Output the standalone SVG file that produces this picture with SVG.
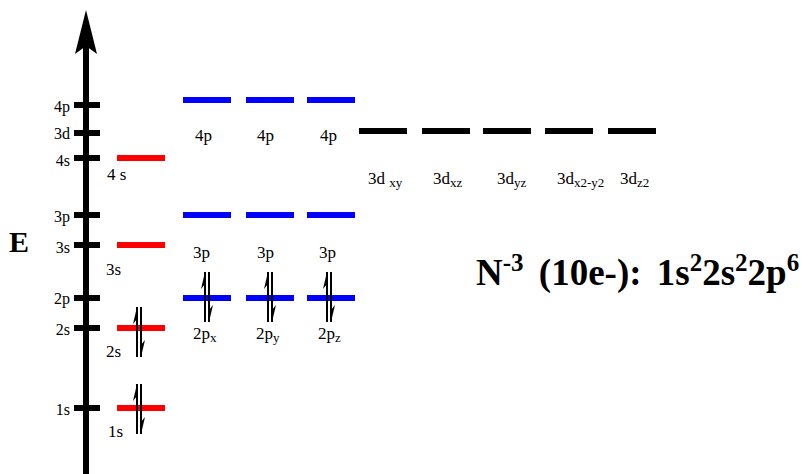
<svg xmlns="http://www.w3.org/2000/svg" xmlns:xlink="http://www.w3.org/1999/xlink" width="812" height="474" viewBox="0 0 812 474">
<style>
text{font-family:"Liberation Serif","Times New Roman",serif;fill:#000}
.lab{font-size:17px}
.ax{font-size:16px;text-anchor:end}
.sub{font-size:13px}
.tick{stroke:#000;stroke-width:6}
.s{stroke:#ff0000;stroke-width:6}
.p{stroke:#0000ff;stroke-width:6}
.d{stroke:#000;stroke-width:6}
.spin{stroke:#000;stroke-width:2;fill:none}
.big{font-size:37px;font-weight:bold;word-spacing:6px}
.sup{font-size:25px}
</style>
<defs>
<g id="pair">
<line class="spin" x1="0" y1="0" x2="0" y2="50"/>
<polygon points="0,0 -4,17 0,12" fill="#000"/>
<line class="spin" x1="4" y1="0" x2="4" y2="50"/>
<polygon points="4,50 8,33 4,38" fill="#000"/>
</g>
</defs>
<g id="axis">
<line x1="86" y1="45" x2="86" y2="474" stroke="#000" stroke-width="6"/>
<polygon points="86,10 97,54 86,46 75,54" fill="#000"/>
<line class="tick" x1="74" y1="105" x2="100" y2="105"/>
<line class="tick" x1="74" y1="133" x2="100" y2="133"/>
<line class="tick" x1="74" y1="158" x2="100" y2="158"/>
<line class="tick" x1="74" y1="215" x2="100" y2="215"/>
<line class="tick" x1="74" y1="245" x2="100" y2="245"/>
<line class="tick" x1="74" y1="298" x2="100" y2="298"/>
<line class="tick" x1="74" y1="328" x2="100" y2="328"/>
<line class="tick" x1="74" y1="408" x2="100" y2="408"/>
<text class="ax" x="70" y="112">4p</text>
<text class="ax" x="70" y="139">3d</text>
<text class="ax" x="70" y="166">4s</text>
<text class="ax" x="70" y="222">3p</text>
<text class="ax" x="70" y="253">3s</text>
<text class="ax" x="70" y="304">2p</text>
<text class="ax" x="70" y="335">2s</text>
<text class="ax" x="70" y="415">1s</text>
<text x="9" y="252" style="font-size:30px;font-weight:bold">E</text>
</g>
<g id="s-orbitals">
<line class="s" x1="117" y1="158" x2="165" y2="158"/>
<text class="lab" x="107" y="180">4 s</text>
<line class="s" x1="117" y1="245" x2="165" y2="245"/>
<text class="lab" x="106" y="275">3s</text>
<line class="s" x1="117" y1="328" x2="165" y2="328"/>
<text class="lab" x="106" y="357">2s</text>
<line class="s" x1="117" y1="408" x2="165" y2="408"/>
<text class="lab" x="108" y="437">1s</text>
</g>
<g id="p4">
<line class="p" x1="183" y1="100" x2="231" y2="100"/>
<line class="p" x1="246" y1="100" x2="294" y2="100"/>
<line class="p" x1="307" y1="100" x2="355" y2="100"/>
<text class="lab" x="195" y="141">4p</text>
<text class="lab" x="257" y="141">4p</text>
<text class="lab" x="320" y="141">4p</text>
</g>
<g id="p3">
<line class="p" x1="183" y1="215" x2="231" y2="215"/>
<line class="p" x1="246" y1="215" x2="294" y2="215"/>
<line class="p" x1="307" y1="215" x2="355" y2="215"/>
<text class="lab" x="193" y="258">3p</text>
<text class="lab" x="257" y="258">3p</text>
<text class="lab" x="319" y="258">3p</text>
</g>
<g id="p2">
<line class="p" x1="183" y1="298" x2="231" y2="298"/>
<line class="p" x1="246" y1="298" x2="294" y2="298"/>
<line class="p" x1="307" y1="298" x2="355" y2="298"/>
<text class="lab" x="193" y="339">2p<tspan class="sub" dy="3">x</tspan></text>
<text class="lab" x="256" y="339">2p<tspan class="sub" dy="3">y</tspan></text>
<text class="lab" x="318" y="339">2p<tspan class="sub" dy="3">z</tspan></text>
</g>
<g id="d3">
<line class="d" x1="359" y1="131" x2="407" y2="131"/>
<line class="d" x1="422" y1="131" x2="470" y2="131"/>
<line class="d" x1="483" y1="131" x2="531" y2="131"/>
<line class="d" x1="545" y1="131" x2="593" y2="131"/>
<line class="d" x1="608" y1="131" x2="656" y2="131"/>
<text class="lab" x="368" y="184">3d <tspan class="sub" dy="3">xy</tspan></text>
<text class="lab" x="433" y="184">3d<tspan class="sub" dy="3">xz</tspan></text>
<text class="lab" x="497" y="184">3d<tspan class="sub" dy="3">yz</tspan></text>
<text class="lab" x="557" y="184">3d<tspan class="sub" dy="3">x2-y2</tspan></text>
<text class="lab" x="620" y="184">3d<tspan class="sub" dy="3">z2</tspan></text>
</g>
<g id="electrons">
<use xlink:href="#pair" x="137" y="307"/>
<use xlink:href="#pair" x="137" y="384"/>
<use xlink:href="#pair" x="205" y="272"/>
<use xlink:href="#pair" x="268" y="272"/>
<use xlink:href="#pair" x="327" y="272"/>
</g>
<g id="formula">
<text class="big" x="476" y="285">N<tspan class="sup" dy="-14">-3</tspan><tspan dy="14"> (10e-): 1s</tspan><tspan class="sup" dy="-14">2</tspan><tspan dy="14">2s</tspan><tspan class="sup" dy="-14">2</tspan><tspan dy="14">2p</tspan><tspan class="sup" dy="-14">6</tspan></text>
</g>
</svg>
